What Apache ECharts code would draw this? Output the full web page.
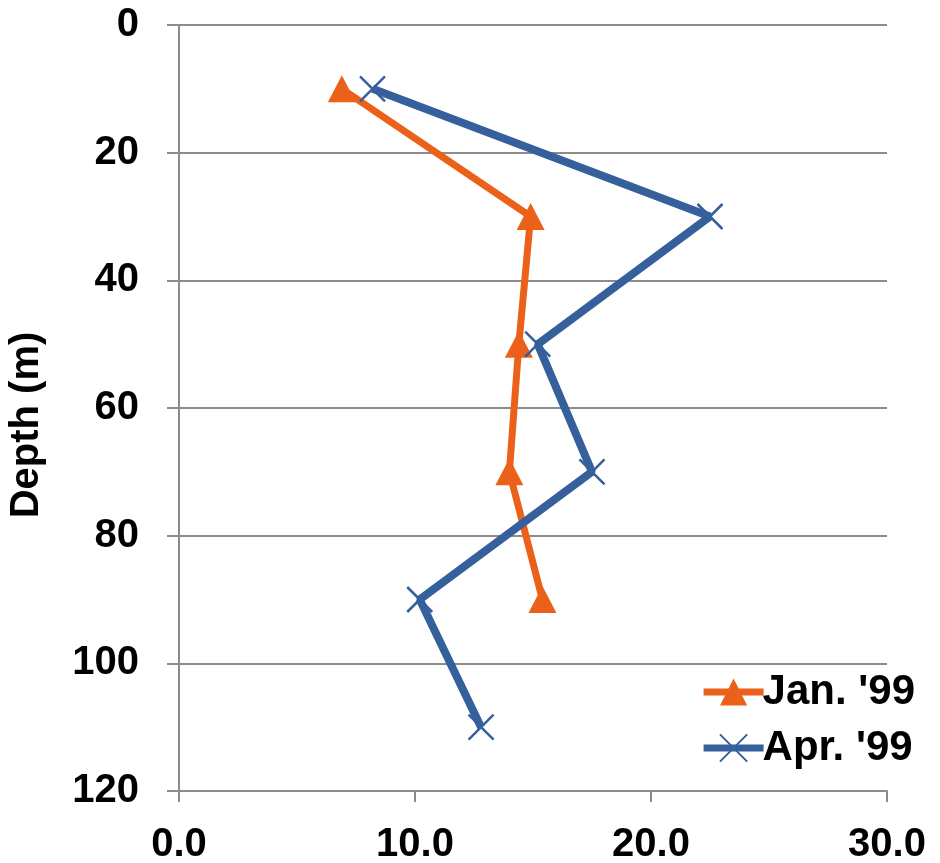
<!DOCTYPE html>
<html>
<head>
<meta charset="utf-8">
<script src="https://cdn.jsdelivr.net/npm/echarts@6/dist/echarts.min.js"></script>
<style>
  html, body { margin: 0; padding: 0; background: #ffffff; }
  #chart { width: 940px; height: 863px; }
</style>
</head>
<body>
<div id="chart"></div>
<script>
// Depth profile: value on x, depth (m) on an inverted y axis
const depthsJan = [10, 30, 50, 70, 90];
const valuesJan = [6.9, 14.9, 14.4, 14.0, 15.4];

const depthsApr = [10, 30, 50, 70, 90, 110];
const valuesApr = [8.2, 22.5, 15.2, 17.5, 10.2, 12.8];

const seriesNames = ["Jan. '99", "Apr. '99"];
const xTicks = [0, 10, 20, 30];
const yTicks = [0, 20, 40, 60, 80, 100, 120];

const FONT = '"Liberation Sans", Arial, sans-serif';
const ORANGE = '#EB6119';
const BLUE = '#36609B';
const GRID_GRAY = '#8C8C8C';

const pairs = (xs, ys) => xs.map((x, i) => [x, ys[i]]);

const chart = echarts.init(document.getElementById('chart'), null, { renderer: 'canvas' });

chart.setOption({
  backgroundColor: '#ffffff',
  animation: false,
  grid: { left: 179, right: 53, top: 25, bottom: 72, containLabel: false, outerBoundsMode: 'none' },
  legend: {
    right: 20,
    top: 664,
    orient: 'vertical',
    align: 'left',
    itemWidth: 60,
    itemHeight: 34,
    itemGap: 10,
    lineStyle: { width: 7 },
    textStyle: {
      fontFamily: FONT, fontWeight: 'bold', fontSize: 42, color: '#000',
      lineHeight: 46, padding: [0, 0, 0, -6]
    },
    data: seriesNames
  },
  xAxis: {
    type: 'value',
    min: xTicks[0],
    max: xTicks[xTicks.length - 1],
    interval: 10,
    position: 'bottom',
    axisLine: { onZero: false, lineStyle: { color: GRID_GRAY, width: 2 } },
    axisTick: { show: true, length: 11, lineStyle: { color: GRID_GRAY, width: 2 } },
    axisLabel: {
      margin: 34,
      fontFamily: FONT, fontWeight: 'bold', fontSize: 40, color: '#000',
      formatter: v => v.toFixed(1)
    },
    splitLine: { show: false }
  },
  yAxis: {
    type: 'value',
    inverse: true,
    min: yTicks[0],
    max: yTicks[yTicks.length - 1],
    interval: 20,
    name: 'Depth (m)',
    nameLocation: 'middle',
    nameGap: 132,
    nameRotate: 90,
    nameTextStyle: {
      fontFamily: FONT, fontWeight: 'bold', fontSize: 40, color: '#000',
      padding: [0, 34, 0, 0]
    },
    axisLine: { onZero: false, lineStyle: { color: GRID_GRAY, width: 2 } },
    axisTick: { show: true, length: 12, lineStyle: { color: GRID_GRAY, width: 2 } },
    axisLabel: {
      margin: 40,
      fontFamily: FONT, fontWeight: 'bold', fontSize: 40, color: '#000'
    },
    splitLine: { show: true, lineStyle: { color: GRID_GRAY, width: 2 } }
  },
  series: [
    {
      name: seriesNames[0],
      type: 'line',
      data: pairs(valuesJan, depthsJan),
      symbol: 'triangle',
      symbolSize: [28, 27],
      lineStyle: { color: ORANGE, width: 7 },
      itemStyle: { color: ORANGE },
      z: 2
    },
    {
      name: seriesNames[1],
      type: 'line',
      data: pairs(valuesApr, depthsApr),
      symbol: 'path://M0,0L10,10M0,10L10,0',
      symbolSize: 25,
      lineStyle: { color: BLUE, width: 8 },
      itemStyle: { color: 'rgba(0,0,0,0)', borderColor: BLUE, borderWidth: 2.5 },
      z: 3
    }
  ]
});
</script>
</body>
</html>
